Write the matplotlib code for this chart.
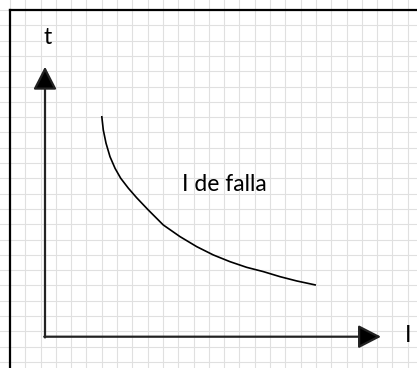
"""Curva tiempo-corriente (t vs I) sobre papel cuadriculado."""
import numpy as np
import matplotlib; matplotlib.use("Agg")
import matplotlib.pyplot as plt

# curve values, in grid cells
I_vals = [6.65, 6.75, 6.93, 7.19, 7.52, 7.89, 8.39, 8.93, 9.69, 10.67,
          11.76, 12.86, 13.94, 15.03, 16.12, 17.21, 18.30, 19.39, 20.65]
t_vals = [16.47, 15.56, 14.69, 13.81, 13.05, 12.40, 11.75, 11.13, 10.33, 9.35,
          8.59, 7.93, 7.39, 6.95, 6.58, 6.30, 5.97, 5.69, 5.42]
curve_label = "I de falla"
x_label = "I"
y_label = "t"

W, H = 417, 368
cell = 15.3
fig = plt.figure(figsize=(W/100, H/100), dpi=100)
ax = fig.add_axes([0, 0, 1, 1])
xmax, ymax = W/cell, H/cell
ax.set_xlim(0, xmax); ax.set_ylim(0, ymax)
ax.axis("off")

# grid paper
for gx in np.arange(10/cell, xmax, 1.0):
    ax.axvline(gx, color="#e0e0e0", lw=0.8, zorder=0)
for gy in np.arange((H-10)/cell, 0, -1.0):
    ax.axhline(gy, color="#e0e0e0", lw=0.8, zorder=0)

# page border (top and left)
bx, by = 10/cell, (H-10)/cell
ax.plot([bx, bx], [0, by], color="black", lw=1.6, solid_capstyle="projecting")
ax.plot([bx, xmax], [by, by], color="black", lw=1.6, solid_capstyle="projecting")

# axes with arrows
ox, oy = 45/cell, (H-336.7)/cell
tipx, tipy = 381/cell, (H-66.7)/cell
arrow = dict(arrowstyle="-|>,head_length=1.4,head_width=0.72", lw=1.6, color="#222222",
             shrinkA=0, shrinkB=0, fc="black")
ax.annotate("", xy=(tipx, oy), xytext=(ox - 0.05, oy), arrowprops=arrow)
ax.annotate("", xy=(ox, tipy), xytext=(ox, oy - 0.05), arrowprops=arrow)

ax.plot(I_vals, t_vals, color="black", lw=1.2, solid_capstyle="butt", solid_joinstyle="round")

fnt = dict(family=["Lato", "DejaVu Sans"], fontsize=16.5, color="black")
ax.text(224.5/cell, (H-184.5)/cell, curve_label, ha="center", va="center", **fnt)
ax.text(48/cell, (H-37)/cell, y_label, ha="center", va="center", **fnt)
ax.text(408/cell, (H-336)/cell, x_label, ha="center", va="center", **fnt)

fig.savefig("out.png", dpi=100)
